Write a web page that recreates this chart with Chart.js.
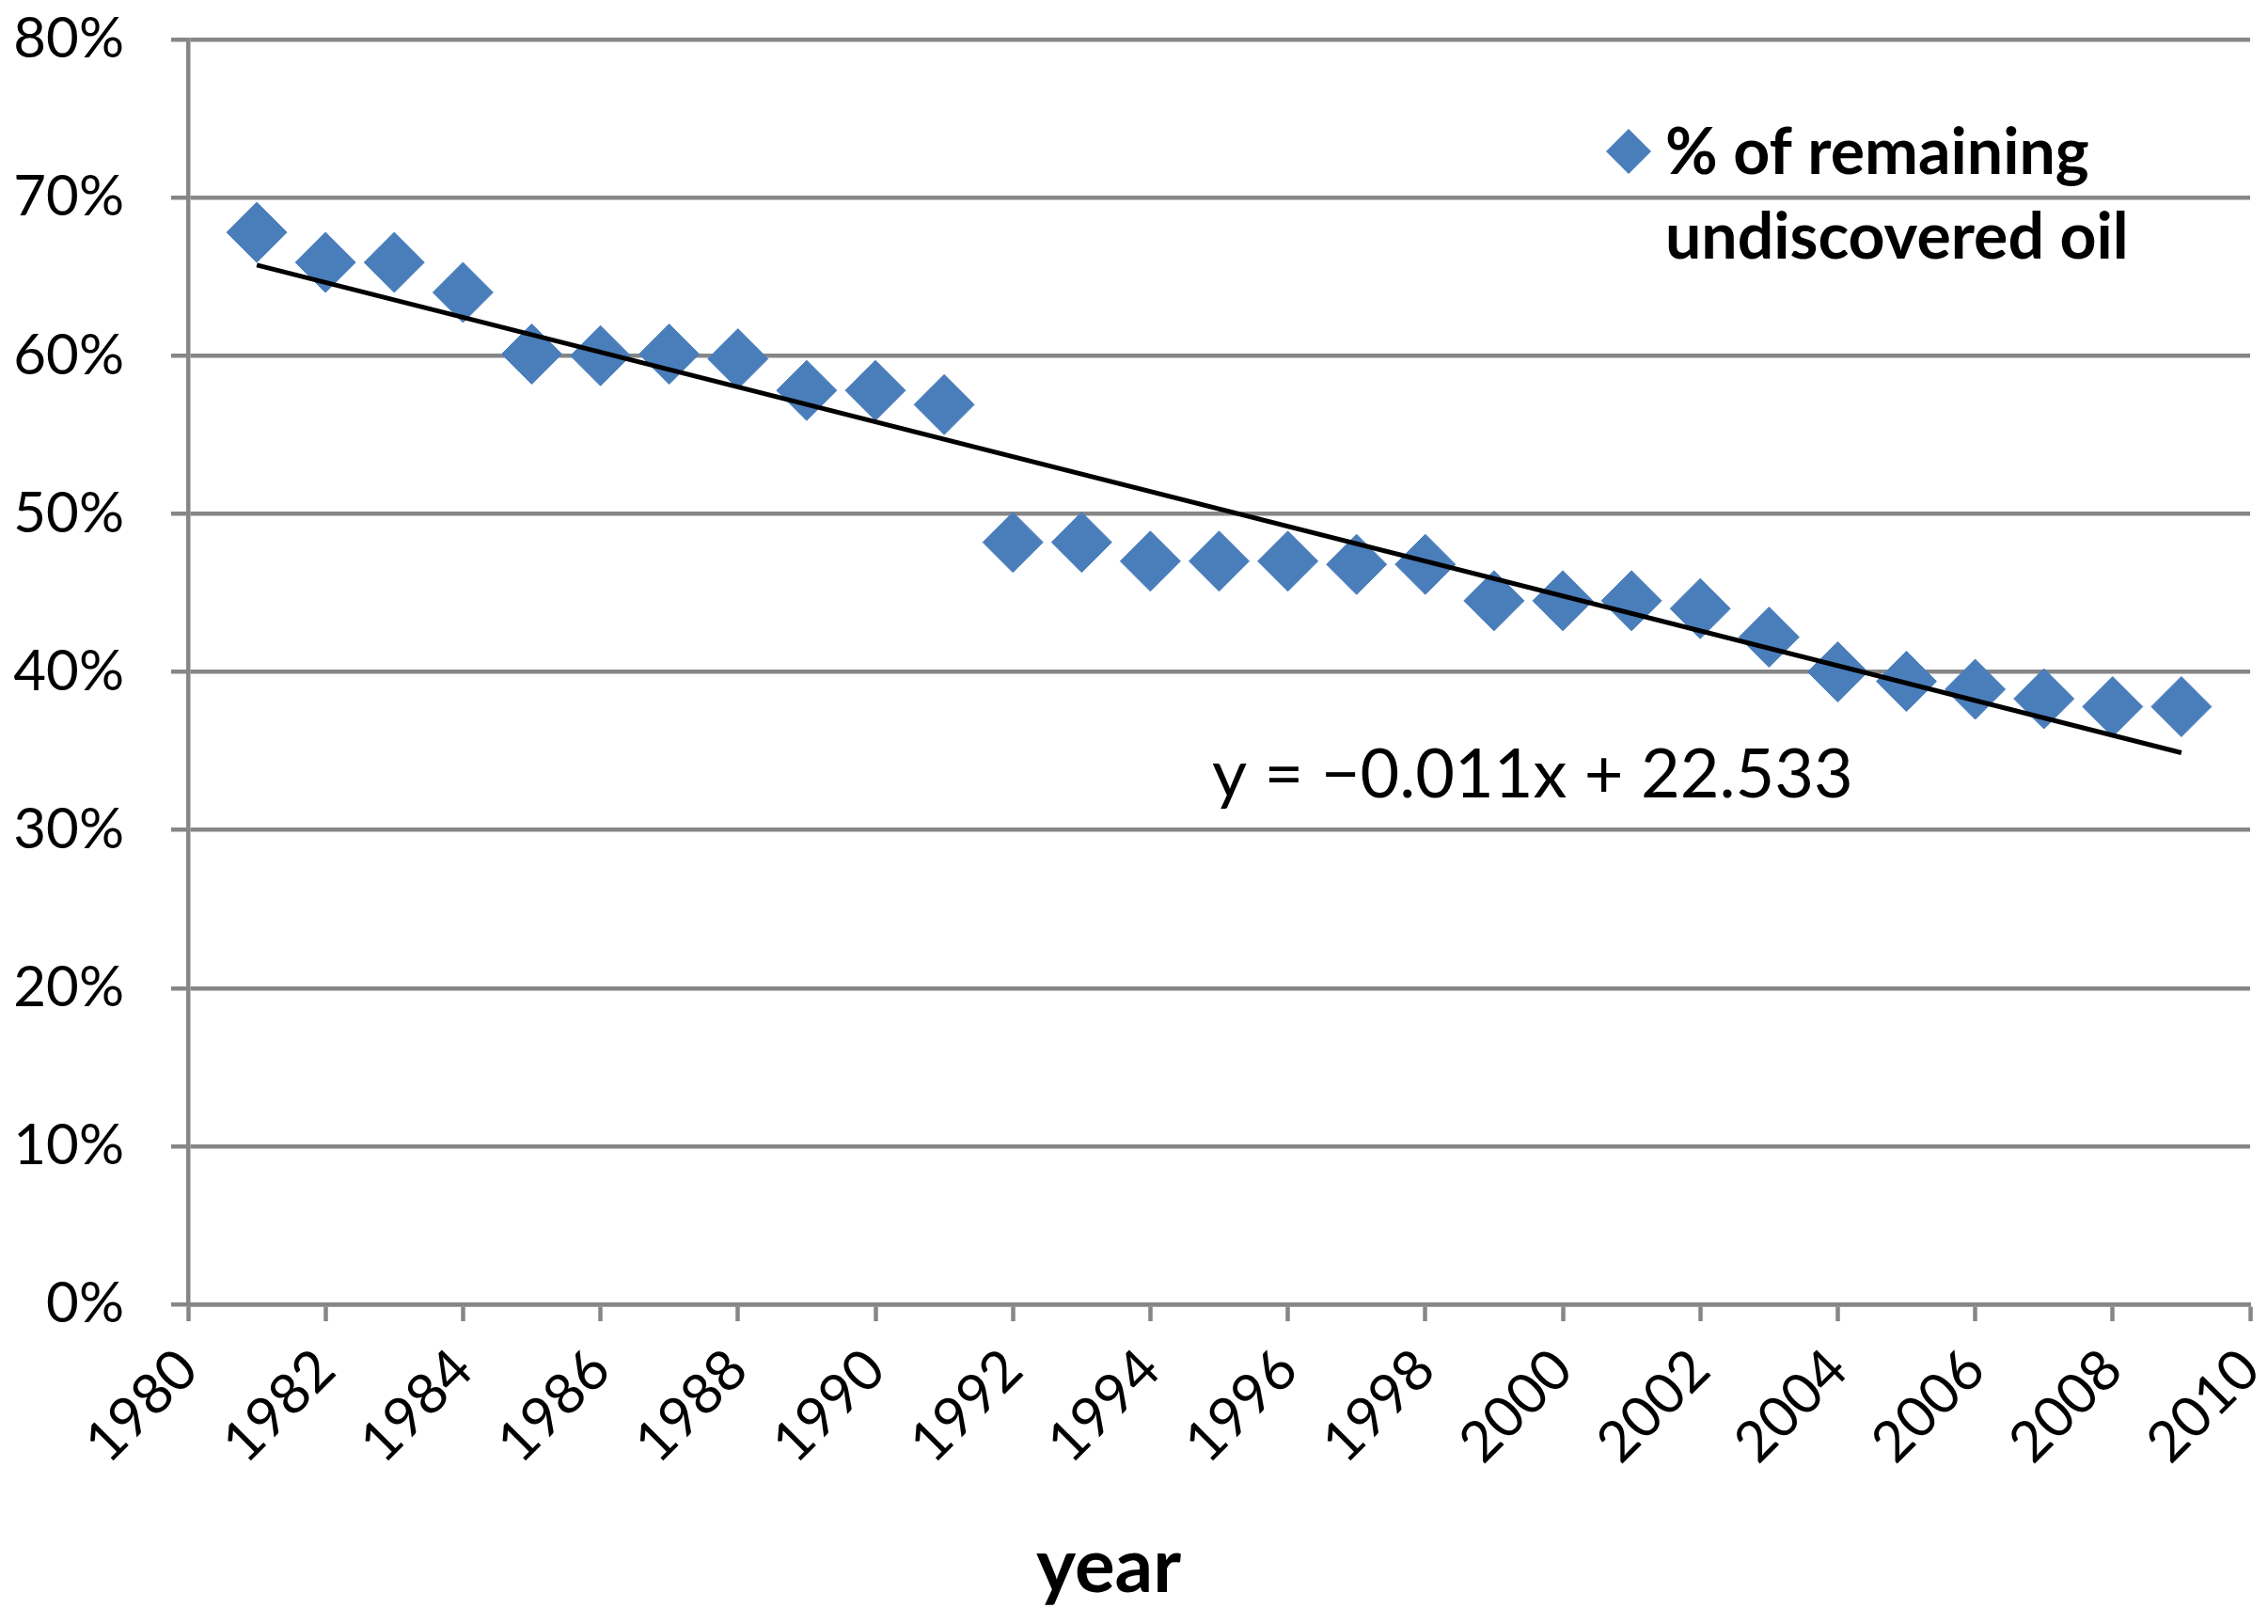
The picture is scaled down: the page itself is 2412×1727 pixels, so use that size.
<!DOCTYPE html>
<html>
<head>
<meta charset="utf-8">
<script src="https://cdn.jsdelivr.net/npm/chart.js@4.4.1/dist/chart.umd.min.js"></script>
<style>
  html, body { margin: 0; padding: 0; background: #fff; overflow: hidden; }
  #wrap { width: 2412px; height: 1727px; }
</style>
</head>
<body>
<div id="wrap"><canvas id="oilChart"></canvas></div>
<script>
// years and % of remaining undiscovered oil
const years = [1981, 1982, 1983, 1984, 1985, 1986, 1987, 1988, 1989, 1990,
  1991, 1992, 1993, 1994, 1995, 1996, 1997, 1998, 1999, 2000,
  2001, 2002, 2003, 2004, 2005, 2006, 2007, 2008, 2009];
const remaining = [67.8, 65.9, 65.9, 64.0, 60.1, 60.0, 60.1, 59.8, 57.8, 57.8,
  56.9, 48.2, 48.2, 47.0, 47.0, 47.0, 46.8, 46.8, 44.5, 44.5,
  44.5, 44.0, 42.2, 40.0, 39.4, 38.9, 38.3, 37.8, 37.8];
const seriesName = ['% of remaining', 'undiscovered oil'];
const equationText = 'y = \u22120.011x + 22.533';
const xTitle = 'year';

const blue = '#4a7ebb';
const gridGray = '#868686';
const font = 'Lato';

// least squares trend line through the points
const n = years.length;
const mx = years.reduce((a, b) => a + b, 0) / n;
const my = remaining.reduce((a, b) => a + b, 0) / n;
let sxy = 0, sxx = 0;
for (let i = 0; i < n; i++) {
  sxy += (years[i] - mx) * (remaining[i] - my);
  sxx += (years[i] - mx) ** 2;
}
const slope = sxy / sxx;
const trend = [years[0], years[n - 1]].map(x => ({ x: x, y: my + slope * (x - mx) }));

// legend box, equation label and axis title drawn on top
const overlay = {
  id: 'overlay',
  afterDatasetsDraw(chart) {
    const c = chart.ctx;
    c.save();
    // legend marker
    const lx = 1732, ly = 161, r = 24;
    c.fillStyle = blue;
    c.beginPath();
    c.moveTo(lx - r, ly); c.lineTo(lx, ly - r); c.lineTo(lx + r, ly); c.lineTo(lx, ly + r);
    c.closePath();
    c.fill();
    c.fillStyle = '#000';
    c.textAlign = 'left';
    c.textBaseline = 'alphabetic';
    c.font = 'bold 68px ' + font;
    c.fillText(seriesName[0], 1771, 185);
    c.fillText(seriesName[1], 1771, 275);
    c.font = '72px ' + font;
    c.fillText(equationText, 1289, 848);
    c.textAlign = 'center';
    c.font = 'bold 80px ' + font;
    c.fillText(xTitle, 1179, 1693);
    c.restore();
  }
};

new Chart(document.getElementById('oilChart'), {
  type: 'scatter',
  data: {
    datasets: [{
      label: seriesName.join(' '),
      data: years.map((x, i) => ({ x: x, y: remaining[i] })),
      pointStyle: 'rectRot',
      pointRadius: 32,
      pointBackgroundColor: blue,
      pointBorderColor: blue,
      pointBorderWidth: 1,
      order: 2
    }, {
      type: 'line',
      label: 'trend',
      data: trend,
      borderColor: '#000',
      borderWidth: 5,
      pointRadius: 0,
      fill: false,
      order: 1
    }]
  },
  options: {
    responsive: true,
    maintainAspectRatio: false,
    animation: false,
    devicePixelRatio: 1,
    layout: { autoPadding: false, padding: { top: 42, right: 19, left: 0, bottom: 0 } },
    plugins: {
      legend: { display: false },
      tooltip: { enabled: false }
    },
    scales: {
      x: {
        type: 'linear',
        min: 1980,
        max: 2010,
        ticks: {
          stepSize: 2,
          minRotation: 45,
          maxRotation: 45,
          padding: 16,
          color: '#000',
          font: { family: font, size: 60 },
          callback: v => String(v)
        },
        grid: { drawOnChartArea: false, drawTicks: true, tickLength: 18, tickWidth: 4.5, tickColor: gridGray },
        border: { color: gridGray, width: 4.5 },
        afterFit: s => { s.height = 340; s.paddingRight = 0; s.paddingLeft = 0; }
      },
      y: {
        min: 0,
        max: 80,
        ticks: {
          stepSize: 10,
          padding: 50,
          color: '#000',
          font: { family: font, size: 60 },
          callback: v => v + '%'
        },
        grid: { color: gridGray, lineWidth: 4.5, tickLength: 18 },
        border: { color: gridGray, width: 4.5 },
        afterFit: s => { s.width = 200; s.paddingTop = 0; s.paddingBottom = 0; }
      }
    }
  },
  plugins: [overlay]
});
</script>
</body>
</html>
